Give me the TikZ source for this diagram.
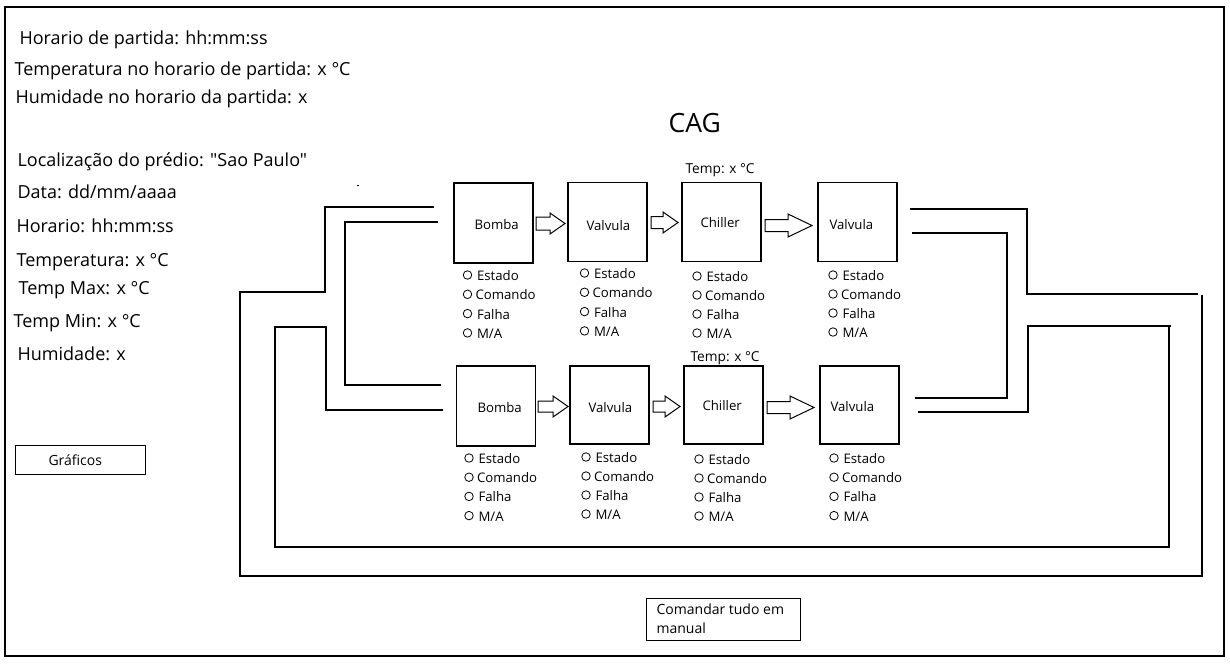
\documentclass[tikz,border=0pt]{standalone}
\usepackage{fontspec}
\setmainfont{Open Sans}[Ligatures=TeXOff]
\begin{document}
\begin{tikzpicture}[x=1pt,y=-1pt,line width=1.1pt,
  t/.style={anchor=base west,inner sep=0pt,font=\fontsize{18}{20}\selectfont},
  s/.style={anchor=base west,inner sep=0pt,font=\fontsize{13.2}{15}\selectfont},
  tmp/.style={anchor=base west,inner sep=0pt,font=\fontsize{13.7}{16}\selectfont},
  btn/.style={anchor=base west,inner sep=0pt,font=\fontsize{14}{16}\selectfont},
  box/.style={draw,minimum width=79pt,minimum height=80pt,inner sep=0pt},
  rb/.style={draw,circle,minimum size=8.5pt,inner sep=0pt,line width=0.8pt},
  barrow/.style={draw,line width=1pt,fill=white,line join=miter},
  pipe/.style={line width=1.2pt}]
\useasboundingbox (0,0) rectangle (1230,664);
\draw (5,7) rectangle (1224,656);

% left texts
\node[t] (l1) at (19,44) {Horario de partida: hh:mm:ss};
\node[t] (l2) at (14,75) {Temperatura no horario de partida: x °C};
\node[t] (l3) at (15,103) {Humidade no horario da partida: x};
\node[t] (l4) at (17,166) {Localização do prédio: "Sao Paulo"};
\node[t] (l5) at (17,198) {Data: dd/mm/aaaa};
\node[t] (l6) at (16,232) {Horario: hh:mm:ss};
\node[t] (l7) at (16,266) {Temperatura: x °C};
\node[t] (l8) at (18,294) {Temp Max: x °C};
\node[t] (l9) at (13,327) {Temp Min: x °C};
\node[t] (l10) at (17,360) {Humidade: x};

\node[anchor=base west,inner sep=0pt,font=\fontsize{26.5}{30}\selectfont] (cag) at (668,132) {CAG};

% stray mark
\draw[line width=1pt] (357,185) -- (359,185);

% boxes row 1
\node[box] (b1) at (493.5,223) {};
\node[box,minimum height=79pt] (v1) at (607.5,222) {};
\node[box,minimum height=79pt] (c1) at (721.5,222) {};
\node[box,minimum height=79pt] (w1) at (857.5,222) {};
% boxes row 2
\node[box] (b2) at (496,406) {};
\node[box,minimum height=78pt] (v2) at (609.5,405) {};
\node[box,minimum height=78pt] (c2) at (723.5,405) {};
\node[box,minimum height=78pt] (w2) at (859.5,405) {};

% box labels
\node[s] (b1t) at (474,229) {Bomba};
\node[s] (v1t) at (586,230) {Valvula};
\node[s] (c1t) at (700,227) {Chiller};
\node[s] (w1t) at (829,229) {Valvula};
\node[s] (b2t) at (477,412) {Bomba};
\node[s] (v2t) at (588,412) {Valvula};
\node[s] (c2t) at (702,410) {Chiller};
\node[s] (w2t) at (830,411) {Valvula};

\node[tmp] (tc1) at (685,173) {Temp: x °C};
\node[tmp] (tc2) at (690,361) {Temp: x °C};

% block arrows: xstart, tip, headstart, ycenter, shaft half, head half
\newcommand\blockarr[6]{\draw[barrow] (#1,#4-#5) -- (#3,#4-#5) -- (#3,#4-#6) -- (#2,#4) -- (#3,#4+#6) -- (#3,#4+#5) -- (#1,#4+#5) -- cycle;}
\blockarr{536}{565}{550}{223.5}{6.5}{10.5}
\blockarr{651}{678}{663}{222.5}{6}{10.5}
\blockarr{765}{812}{788}{225.5}{6}{11.5}
\blockarr{538}{568}{553}{406.5}{5.5}{10.5}
\blockarr{653}{680}{665}{406.5}{5.5}{10.5}
\blockarr{767}{814}{790}{407.5}{6}{11.5}

% status lists
\newcommand\stat[4]{%
  \node[rb] (#1e) at (#2,#3) {};
  \node[s] (#1et) at (#2+9,#3+5.5) {Estado};
  \node[rb] (#1c) at (#2,#3+#4) {};
  \node[s] (#1ct) at (#2+7.5,#3+#4+5.5) {Comando};
  \node[rb] (#1f) at (#2,#3+2*#4) {};
  \node[s] (#1ft) at (#2+9,#3+2*#4+5.5) {Falha};
  \node[rb] (#1m) at (#2,#3+3*#4) {};
  \node[s] (#1mt) at (#2+9,#3+3*#4+5.5) {M/A};}
\stat{sb1}{467.5}{275}{19.3}
\stat{sv1}{584.5}{273}{19.3}
\stat{sc1}{697}{276}{19}
\stat{sw1}{833}{275}{19}
\stat{sb2}{469}{458}{19.2}
\stat{sv2}{586}{457}{19}
\stat{sc2}{699}{459}{19}
\stat{sw2}{834}{458}{19.2}

% pipe end coordinates
\coordinate (pa1) at (434,207);
\coordinate (pb1) at (438,222);
\coordinate (pb2) at (441,385);
\coordinate (pc2) at (443,410);
\coordinate (qa1) at (910,209);
\coordinate (qd1) at (912,233);
\coordinate (qd2) at (915,398);
\coordinate (qc2) at (918,412);

% pipes left
\draw[pipe] (pa1) -- (325,207) -- (325,292) -- (240,292) -- (240,576) -- (1202,576) -- (1202,295);
\draw[pipe] (pb1) -- (345,222) -- (345,385) -- (pb2);
\draw[pipe] (pc2) -- (326,410) -- (326,327) -- (275,327) -- (275,547) -- (1169,547) -- (1169,326);
% pipes right
\draw[pipe] (qa1) -- (1027,209) -- (1027,294) -- (1198,294);
\draw[pipe] (qd1) -- (1007,233) -- (1007,398) -- (qd2);
\draw[pipe] (qc2) -- (1028,412) -- (1028,326) -- (1171,326);

% buttons
\node[draw,minimum width=130pt,minimum height=29pt,inner sep=0pt,line width=1pt] (gbox) at (80,459.5) {};
\node[btn] (gt) at (48,465) {Gráficos};
\node[draw,minimum width=154pt,minimum height=42pt,inner sep=0pt,line width=1pt] (mbox) at (723,619) {};
\node[btn] (mt1) at (656,614) {Comandar tudo em};
\node[btn] (mt2) at (656,633) {manual};
\end{tikzpicture}
\end{document}
